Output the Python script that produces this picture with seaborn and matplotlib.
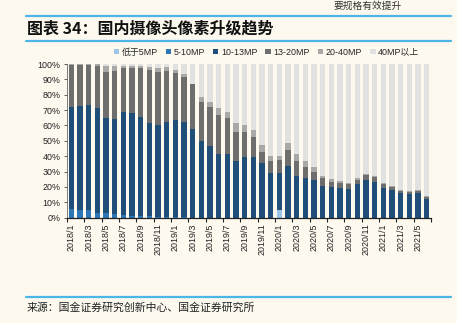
import matplotlib
matplotlib.use("Agg")
import matplotlib.pyplot as plt
from matplotlib.patches import Patch
from matplotlib.lines import Line2D
import numpy as np
import pandas as pd
import seaborn as sns

# Monthly share (%) of domestic camera shipments by resolution tier
months = [f"{y}/{m}" for y in (2018, 2019, 2020) for m in range(1, 13)] + \
         [f"2021/{m}" for m in range(1, 7)]

below_5mp = [0] * 24 + [5.0] + [0] * 17
mp_5_10 = [5.6, 4.8, 4.8, 3.0, 3.0, 2.2, 1.7, 1.2, 1.0, 0.8, 0.5, 0.5,
           0.3, 0.3] + [0] * 28
mp_10_13 = [66.6, 68.1, 68.7, 68.6, 62.1, 62.2, 67.3, 67.1, 64.7, 61.0, 60.0, 62.0,
            63.5, 62.2, 57.9, 50.1, 46.9, 41.6, 41.6, 36.9, 39.7, 39.7, 35.4, 28.9,
            23.9, 33.8, 27.3, 25.8, 24.7, 20.8, 20.2, 19.5, 18.7, 21.7, 24.7, 23.4,
            19.5, 18.0, 16.3, 15.6, 16.3, 12.1]
mp_13_20 = [27.1, 26.4, 25.8, 27.1, 29.9, 31.3, 28.6, 29.3, 31.9, 34.5, 34.5, 33.2,
            30.6, 29.3, 28.9, 25.4, 25.3, 25.2, 23.5, 19.1, 16.3, 13.0, 7.6, 8.0,
            8.6, 10.0, 9.6, 7.0, 5.0, 5.0, 3.2, 3.3, 3.0, 3.0, 3.1, 3.1,
            2.4, 1.7, 1.3, 1.3, 1.3, 1.3]
mp_20_40 = [0.7, 0.7, 0.7, 1.0, 3.7, 3.0, 1.3, 1.3, 1.3, 1.5, 2.4, 2.1,
            1.5, 1.7, 0.4, 3.0, 3.1, 4.8, 3.7, 5.8, 4.3, 4.3, 4.3, 3.2,
            2.6, 4.8, 4.5, 4.1, 3.1, 1.3, 1.8, 1.1, 0.9, 0.9, 0.8, 0.6,
            0.9, 0.9, 0.4, 0.7, 0.6, 0.7]

series_names = ["低于5MP", "5-10MP", "10-13MP", "13-20MP", "20-40MP", "40MP以上"]
colors = ["#9DC3E6", "#2E75B6", "#1F4E79", "#6E6E6E", "#A8A8A8", "#E1E1E1"]

df = pd.DataFrame({"month": months, "低于5MP": below_5mp, "5-10MP": mp_5_10,
                   "10-13MP": mp_10_13, "13-20MP": mp_13_20, "20-40MP": mp_20_40})
df["40MP以上"] = (100 - df[series_names[:-1]].sum(axis=1)).clip(lower=0)
cum = df[series_names].cumsum(axis=1)

bg = "#FDF9EF"
sns.set_theme(style="white")
plt.rcParams["font.family"] = ["Liberation Sans", "Noto Sans CJK SC", "DejaVu Sans"]
plt.rcParams["axes.unicode_minus"] = False

fig = plt.figure(figsize=(4.57, 3.23), dpi=100, facecolor=bg)
ax = fig.add_axes([0.1466, 0.326, 0.7965, 0.4758])
ax.set_facecolor(bg)

# stacked bars: draw cumulative totals from the top tier downward
for name, col in reversed(list(zip(series_names, colors))):
    sns.barplot(x=df["month"], y=cum[name], color=col, saturation=1,
                width=0.6, linewidth=0, ax=ax, order=months)

ax.set_xlim(-0.5, len(months) - 0.5)
ax.set_ylim(0, 100)
ax.set_xlabel("")
ax.set_ylabel("")

ax.set_yticks(np.arange(0, 101, 10))
ax.set_yticklabels([f"{v}%" for v in range(0, 101, 10)], fontsize=6.4, color="#222222")
ax.tick_params(axis="y", length=2.5, width=0.6, pad=2, color="#444444", left=True)

label_pos = np.arange(0, len(months), 2)
ax.set_xticks(label_pos)
ax.set_xticklabels([months[i] for i in label_pos], rotation=90, fontsize=6.4,
                   color="#222222")
ax.set_xticks(np.arange(-0.5, len(months), 2), minor=True)
ax.tick_params(axis="x", which="major", length=0, pad=4)
ax.tick_params(axis="x", which="minor", length=3, width=0.8, color="#222222",
               bottom=True)

for s in ["top", "right"]:
    ax.spines[s].set_visible(False)
ax.spines["bottom"].set_color("#222222")
ax.spines["bottom"].set_linewidth(0.9)
ax.spines["left"].set_color("#666666")
ax.spines["left"].set_linewidth(0.6)

handles = [Patch(facecolor=c, edgecolor="none", label=n) for n, c in zip(series_names, colors)]
fig.legend(handles=handles, loc="center", bbox_to_anchor=(0.583, 0.839), ncol=6,
           frameon=False, fontsize=6.4, handlelength=0.6, handleheight=0.6,
           handletextpad=0.3, columnspacing=0.9, borderaxespad=0)

# header and footer
line_col = "#4DB6E8"
for yy in (1 - 16 / 323, 1 - 41 / 323, 1 - 297 / 323):
    fig.add_artist(Line2D([26 / 457, 451 / 457], [yy, yy], color=line_col,
                          linewidth=1.6, transform=fig.transFigure))

fig.text(27 / 457, 1 - 29 / 323, "图表 34：国内摄像头像素升级趋势", fontsize=11.5,
         fontweight="bold", va="center", ha="left", color="#111111",
         family=["Noto Sans CJK SC", "DejaVu Sans"])
fig.text(27 / 457, 1 - 308 / 323, "来源：国金证券研究创新中心、国金证券研究所",
         fontsize=7.8, va="center", ha="left", color="#222222",
         family=["Noto Sans CJK SC", "DejaVu Sans"])
fig.text(333 / 457, 1 - 1 / 323, "要规格有效提升", fontsize=7, va="top",
         ha="left", color="#333333", family=["Noto Sans CJK SC", "DejaVu Sans"])

fig.savefig("out.png", dpi=100, facecolor=bg)
